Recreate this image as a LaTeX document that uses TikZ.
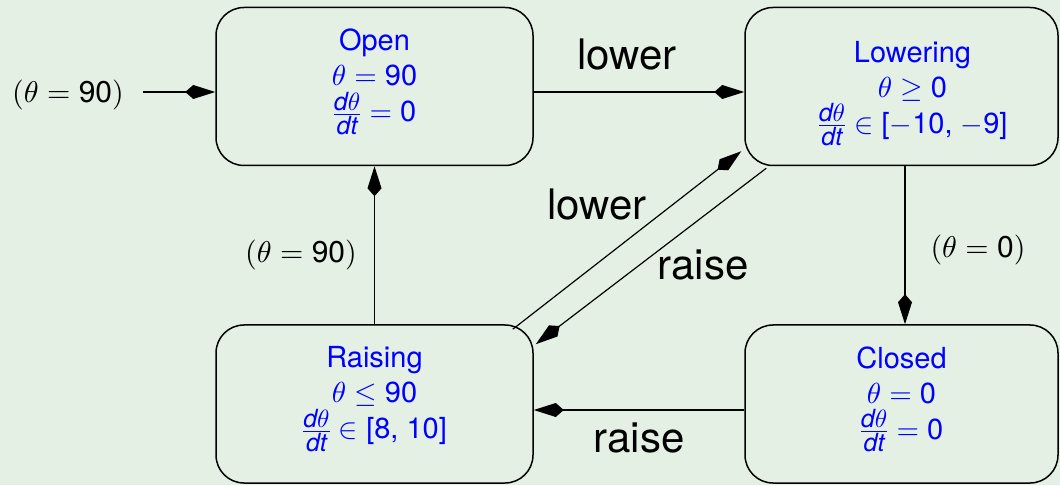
\documentclass[tikz,border=0pt]{standalone}
\usepackage{amsmath}
\usepackage{fontspec}
\setmainfont{TeX Gyre Heros}
\DeclareFontShape{OML}{cmm}{m}{it}{<->cmmi10}{}
\DeclareFontShape{OMS}{cmsy}{m}{n}{<->cmsy10}{}
\DeclareFontShape{OT1}{cmr}{m}{n}{<->cmr10}{}
\DeclareFontShape{OMX}{cmex}{m}{n}{<->cmex10}{}
\DeclareMathSizes{29}{29}{25}{19}
\DeclareMathSizes{30}{30}{25}{19}
\usetikzlibrary{arrows.meta,calc}
\definecolor{bgcol}{RGB}{229,240,229}
\definecolor{txtblue}{RGB}{0,0,255}
\newcommand{\dd}{\text{\itshape d}}
\newcommand{\ddt}{\text{\itshape dt}}
\begin{document}
\begin{tikzpicture}[x=1pt,y=1pt,
  state/.style={draw=black, line width=1.5pt, rounded corners=28pt,
    minimum height=158pt, inner sep=0pt},
  statetext/.style={anchor=north, align=center, text=txtblue, inner sep=0pt,
    font=\fontsize{29}{35}\selectfont},
  conn/.style={line width=1.2pt, -{Kite[length=30pt,width=14pt,inset=8pt]}},
  lbl/.style={anchor=base, inner sep=0pt, font=\fontsize{30}{36}\selectfont},
  biglbl/.style={anchor=base, inner sep=0pt, font=\fontsize{42}{50}\selectfont}]
\fill[bgcol] (0,0) rectangle (1060,485);
\useasboundingbox (0,0) rectangle (1060,485);

\node[state, minimum width=317pt] (open) at (374.5,398.5) {};
\node[state, minimum width=313pt] (lowering) at (901.5,398.5) {};
\node[state, minimum width=317pt] (raising) at (374.5,81) {};
\node[state, minimum width=313pt] (closed) at (901.5,81) {};

\node[statetext] (opentxt) at ($(open.north)+(0,-22)$)
  {Open\\$\theta = \text{90}$\\[1pt]$\frac{\dd\theta}{\ddt} = \text{0}$};
\node[statetext] (loweringtxt) at ($(lowering.north)+(11,-34)$)
  {Lowering\\$\theta \geq \text{0}$\\[1pt]$\frac{\dd\theta}{\ddt} \in \text{[}{-}\text{10, }{-}\text{9]}$};
\node[statetext] (raisingtxt) at ($(raising.north)+(0,-22)$)
  {Raising\\$\theta \leq \text{90}$\\[1pt]$\frac{\dd\theta}{\ddt} \in \text{[8, 10]}$};
\node[statetext] (closedtxt) at ($(closed.north)+(0,-22)$)
  {Closed\\$\theta = \text{0}$\\[1pt]$\frac{\dd\theta}{\ddt} = \text{0}$};

\coordinate (init) at (143,393);
\draw[conn] (init) -- (init -| open.west);
\node[lbl] (initlbl) at (68,382) {$(\theta = \text{90})$};

\draw[conn] (open.east |- init) -- (lowering.west |- init);
\node[biglbl] (lowertop) at (627,415) {lower};

\draw[conn] ($(lowering.south)+(3.5,0)$) -- ($(closed.north)+(3.5,0)$);
\node[lbl] (closelbl) at (978,227) {$(\theta = \text{0})$};

\draw[conn] ($(closed.west)+(0,-6)$) -- ($(raising.east)+(0,-6)$);
\node[biglbl] (raisebot) at (639,33) {raise};

\draw[conn] (raising.north) -- (open.south);
\node[lbl] (openlbl) at (301,222) {$(\theta = \text{90})$};

\draw[conn] ($(raising.north east)+(-21,-5)$) -- ($(lowering.south west)+(-3,15)$);
\node[biglbl] (lowerdiag) at (597,265) {lower};
\draw[conn] ($(lowering.south west)+(22,-2)$) -- ($(raising.north east)+(2,-20)$);
\node[biglbl] (raisediag) at (703,205) {raise};
\end{tikzpicture}
\end{document}
